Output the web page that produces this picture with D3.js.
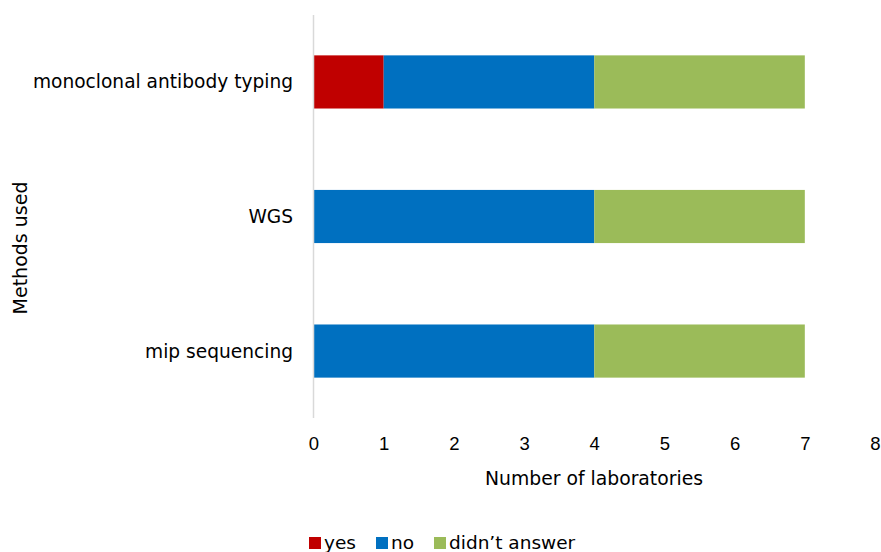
<!DOCTYPE html>
<html>
<head>
<meta charset="utf-8">
<script src="https://cdn.jsdelivr.net/npm/d3@7"></script>
<style>
  body { margin: 0; background: #fff; }
  text { font-family: "DejaVu Sans", Verdana, sans-serif; fill: #000; }
</style>
</head>
<body>
<script>
var categories = ["monoclonal antibody typing", "WGS", "mip sequencing"];
var seriesNames = ["yes", "no", "didn\u2019t answer"];
var yesValues = [1, 0, 0];
var noValues = [3, 4, 4];
var noAnswerValues = [3, 3, 3];
var colours = ["#c00000", "#0070c0", "#9bbb59"];
var xTicks = [0, 1, 2, 3, 4, 5, 6, 7, 8];

var w = 881;
var h = 552;

var svg = d3.select("body")
  .append("svg")
  .attr("width", w)
  .attr("height", h);

var rows = categories.map(function(c, i) {
  return { cat: c, yes: yesValues[i], no: noValues[i], na: noAnswerValues[i] };
});
var stack = d3.stack().keys(["yes", "no", "na"])(rows);

var xScale = d3.scaleLinear().domain([0, 8]).range([313.5, 875]);
var yScale = d3.scaleBand().domain(categories).range([15, 418]).paddingInner(0.605).paddingOuter(0.3);

// bars
svg.selectAll("g.layer")
  .data(stack)
  .enter()
  .append("g")
  .attr("class", "layer")
  .attr("fill", function(d, i) { return colours[i]; })
  .selectAll("rect")
  .data(function(d) { return d; })
  .enter()
  .append("rect")
  .attr("x", function(d) { return xScale(d[0]); })
  .attr("y", function(d) { return yScale(d.data.cat); })
  .attr("width", function(d) { return xScale(d[1]) - xScale(d[0]); })
  .attr("height", yScale.bandwidth());

// vertical axis line
svg.append("line")
  .attr("x1", xScale(0)).attr("x2", xScale(0))
  .attr("y1", 15).attr("y2", 418)
  .attr("stroke", "#d9d9d9")
  .attr("stroke-width", 1.5);

// category labels
svg.selectAll("text.cat")
  .data(categories)
  .enter()
  .append("text")
  .attr("class", "cat")
  .attr("x", 293)
  .attr("y", function(d) { return yScale(d) + yScale.bandwidth() / 2; })
  .attr("dy", "0.35em")
  .attr("text-anchor", "end")
  .style("font-size", "18.6px")
  .text(function(d) { return d; });

// x ticks
var xAxis = svg.append("g")
  .attr("transform", "translate(0,444)")
  .call(d3.axisBottom(xScale).tickValues(xTicks).tickSize(0).tickPadding(0));
xAxis.select(".domain").remove();
xAxis.selectAll("text")
  .attr("dy", "0.35em")
  .style("font-family", "'Liberation Sans', Arial, sans-serif")
  .style("font-size", "18.5px")
  .attr("fill", "#000");

// axis titles
svg.append("text")
  .attr("x", 594)
  .attr("y", 478)
  .attr("dy", "0.35em")
  .attr("text-anchor", "middle")
  .style("font-size", "18.8px")
  .text("Number of laboratories");

svg.append("text")
  .attr("transform", "translate(20,248) rotate(-90)")
  .attr("dy", "0.35em")
  .attr("text-anchor", "middle")
  .style("font-size", "19px")
  .text("Methods used");

// legend
var legendX = [309, 376, 434];
var legend = svg.selectAll("g.legend")
  .data(seriesNames)
  .enter()
  .append("g")
  .attr("class", "legend")
  .attr("transform", function(d, i) { return "translate(" + legendX[i] + ",537)"; });
legend.append("rect")
  .attr("width", 12).attr("height", 12)
  .attr("fill", function(d, i) { return colours[i]; });
legend.append("text")
  .attr("x", 15)
  .attr("y", 6)
  .attr("dy", "0.35em")
  .style("font-size", "18.5px")
  .text(function(d) { return d; });
</script>
</body>
</html>
